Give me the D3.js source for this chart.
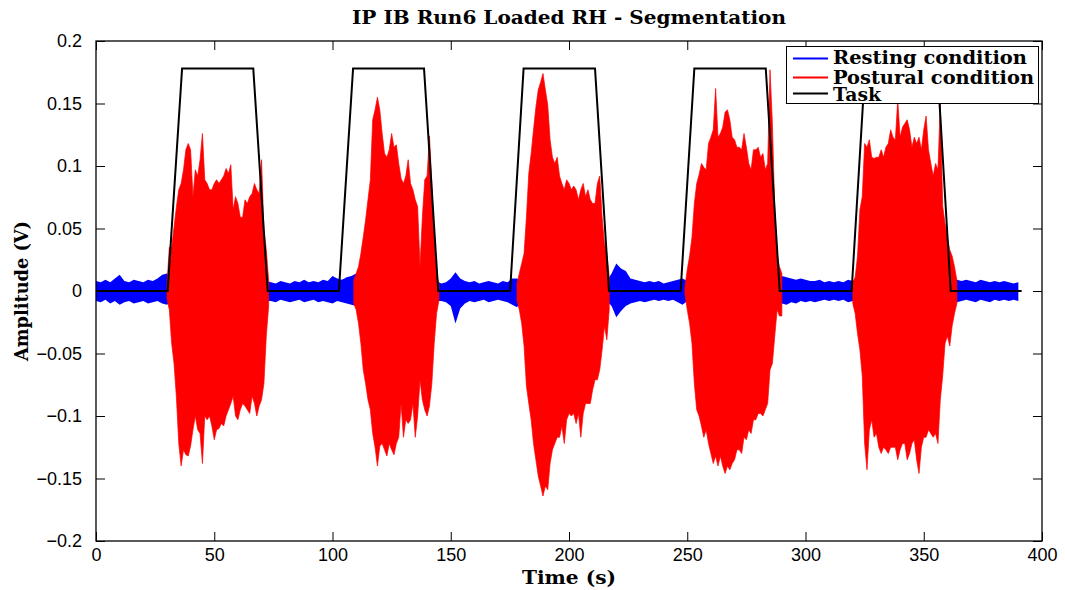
<!DOCTYPE html>
<html><head><meta charset="utf-8">
<script src="https://cdn.jsdelivr.net/npm/d3@7/dist/d3.min.js"></script>
<style>body{margin:0;background:#fff}svg{display:block}</style>
</head><body><svg id="c" width="1065" height="590"></svg>
<script>
// ---------------- data ----------------
const chartTitle = "IP IB Run6 Loaded RH - Segmentation";
const xLabel = "Time (s)";
const yLabel = "Amplitude (V)";
const seriesNames = ["Resting condition", "Postural condition", "Task"];
const seriesColors = ["#0000ff", "#ff0000", "#000000"];

const xTicks = [0, 50, 100, 150, 200, 250, 300, 350, 400];
const xTickLabels = ["0", "50", "100", "150", "200", "250", "300", "350", "400"];
const yTicks = [-0.2, -0.15, -0.1, -0.05, 0, 0.05, 0.1, 0.15, 0.2];
const yTickLabels = ["\u22120.2", "\u22120.15", "\u22120.1", "\u22120.05", "0", "0.05", "0.1", "0.15", "0.2"];

// Task (trapezoid) breakpoints
const taskTime = [0, 30.3, 36.4, 66.5, 72.6, 102.7, 108.7, 138.7, 144.7, 175.1, 180.8, 211.0, 216.9,
                  247.2, 253.0, 283.2, 289.1, 319.5, 325.2, 355.8, 361.4, 391.4];
const taskValue = [0, 0, 0.178, 0.178, 0, 0, 0.178, 0.178, 0, 0, 0.178, 0.178, 0,
                   0, 0.178, 0.178, 0, 0, 0.178, 0.178, 0, 0];

// Resting condition envelope, sampled every 2 s from t = 0
const restStep = 2;
const restUpper = [
 0.008,0.007,0.009,0.007,0.010,0.013,0.008,0.007,0.009,0.008,0.007,0.009,0.008,0.010,0.013,0.014,
 0.008,0.008,0.008,0.008,0.008,0.008,0.008,0.008,0.008,0.008,0.008,0.008,0.008,0.008,0.008,0.008,0.008,0.008,0.008,0.008,0.008,
 0.007,0.006,0.008,0.007,0.006,0.008,0.007,0.009,0.007,0.008,0.007,0.009,0.008,0.012,0.010,0.009,0.011,0.012,0.014,
 0.008,0.008,0.008,0.008,0.008,0.008,0.008,0.008,0.008,0.008,0.008,0.008,0.008,0.008,0.008,0.008,0.008,
 0.006,0.007,0.010,0.015,0.010,0.008,0.007,0.008,0.006,0.007,0.008,0.007,0.006,0.008,0.007,0.010,0.010,
 0.008,0.008,0.008,0.008,0.008,0.008,0.008,0.008,0.008,0.008,0.008,0.008,0.008,0.008,0.008,0.008,0.008,0.008,0.008,
 0.014,0.022,0.018,0.016,0.010,0.009,0.008,0.007,0.008,0.007,0.008,0.006,0.007,0.008,0.009,0.010,
 0.008,0.008,0.008,0.008,0.008,0.008,0.008,0.008,0.008,0.008,0.008,0.008,0.008,0.008,0.008,0.008,0.008,0.008,0.008,0.008,
 0.012,0.011,0.010,0.009,0.010,0.009,0.008,0.008,0.009,0.007,0.008,0.007,0.008,0.007,0.009,0.008,
 0.008,0.008,0.008,0.008,0.008,0.008,0.008,0.008,0.008,0.008,0.008,0.008,0.008,0.008,0.008,0.008,0.008,0.008,0.008,0.008,0.008,
 0.009,0.008,0.009,0.008,0.007,0.009,0.008,0.007,0.008,0.007,0.008,0.007,0.006,0.007
];
const restLower = [
 -0.008,-0.009,-0.007,-0.010,-0.008,-0.011,-0.009,-0.008,-0.010,-0.009,-0.008,-0.010,-0.009,-0.008,-0.010,-0.011,
 -0.008,-0.008,-0.008,-0.008,-0.008,-0.008,-0.008,-0.008,-0.008,-0.008,-0.008,-0.008,-0.008,-0.008,-0.008,-0.008,-0.008,-0.008,-0.008,-0.008,-0.008,
 -0.008,-0.009,-0.007,-0.008,-0.009,-0.008,-0.007,-0.009,-0.008,-0.007,-0.009,-0.008,-0.009,-0.010,-0.008,-0.009,-0.010,-0.011,-0.012,
 -0.008,-0.008,-0.008,-0.008,-0.008,-0.008,-0.008,-0.008,-0.008,-0.008,-0.008,-0.008,-0.008,-0.008,-0.008,-0.008,-0.008,
 -0.008,-0.009,-0.012,-0.026,-0.014,-0.010,-0.008,-0.009,-0.008,-0.007,-0.009,-0.008,-0.007,-0.008,-0.009,-0.011,-0.013,
 -0.008,-0.008,-0.008,-0.008,-0.008,-0.008,-0.008,-0.008,-0.008,-0.008,-0.008,-0.008,-0.008,-0.008,-0.008,-0.008,-0.008,-0.008,-0.008,
 -0.012,-0.021,-0.016,-0.012,-0.010,-0.009,-0.008,-0.009,-0.008,-0.007,-0.008,-0.007,-0.008,-0.007,-0.009,-0.011,
 -0.008,-0.008,-0.008,-0.008,-0.008,-0.008,-0.008,-0.008,-0.008,-0.008,-0.008,-0.008,-0.008,-0.008,-0.008,-0.008,-0.008,-0.008,-0.008,-0.008,
 -0.010,-0.011,-0.009,-0.010,-0.008,-0.009,-0.008,-0.009,-0.008,-0.007,-0.008,-0.007,-0.008,-0.007,-0.009,-0.008,
 -0.008,-0.008,-0.008,-0.008,-0.008,-0.008,-0.008,-0.008,-0.008,-0.008,-0.008,-0.008,-0.008,-0.008,-0.008,-0.008,-0.008,-0.008,-0.008,-0.008,-0.008,
 -0.009,-0.008,-0.007,-0.008,-0.009,-0.007,-0.008,-0.009,-0.007,-0.008,-0.007,-0.008,-0.007,-0.008
];

// Postural condition envelopes, one sample per second
const posturalStep = 1;
const posturalStart = [30, 109, 178, 249, 320];
const burst1Upper = [0.005,0.035,0.035,0.051,0.0675,0.081,0.086,0.097,0.113,0.118,0.113,0.0755,0.097,0.092,0.105,0.126,0.089,0.086,0.081,0.081,0.086,0.089,0.086,0.089,0.092,0.098,0.094,0.101,0.065,0.0755,0.070,0.059,0.059,0.073,0.070,0.0755,0.078,0.086,0.081,0.078,0.105,0.049,0.033,0.0085];
const burst1Lower = [-0.006,-0.015,-0.042,-0.058,-0.085,-0.122,-0.140,-0.127,-0.131,-0.132,-0.124,-0.111,-0.100,-0.111,-0.114,-0.138,-0.100,-0.103,-0.100,-0.108,-0.119,-0.111,-0.110,-0.106,-0.108,-0.100,-0.095,-0.090,-0.084,-0.100,-0.103,-0.095,-0.090,-0.092,-0.095,-0.098,-0.084,-0.090,-0.100,-0.092,-0.087,-0.074,-0.036,-0.012];
const burst2Upper = [0.0088,0.014,0.0195,0.030,0.043,0.057,0.073,0.089,0.137,0.145,0.155,0.145,0.126,0.110,0.107,0.113,0.126,0.115,0.117,0.102,0.090,0.086,0.092,0.105,0.086,0.081,0.073,0.0675,0.0195,0.059,0.089,0.092,0.124,0.086,0.043,0.014,0.0055];
const burst2Lower = [-0.010,-0.015,-0.026,-0.042,-0.063,-0.074,-0.087,-0.095,-0.114,-0.125,-0.140,-0.124,-0.122,-0.127,-0.132,-0.122,-0.127,-0.131,-0.122,-0.117,-0.090,-0.117,-0.103,-0.106,-0.103,-0.090,-0.117,-0.100,-0.071,-0.087,-0.095,-0.100,-0.092,-0.074,-0.042,-0.018,-0.0075];
const burst3Upper = [0.0061,0.014,0.022,0.030,0.059,0.094,0.110,0.129,0.147,0.161,0.167,0.174,0.161,0.149,0.121,0.107,0.102,0.107,0.092,0.086,0.081,0.089,0.086,0.081,0.084,0.081,0.073,0.081,0.086,0.0755,0.081,0.073,0.070,0.070,0.086,0.092,0.059,0.038,0.030,0.0115];
const burst3Lower = [-0.0075,-0.015,-0.026,-0.044,-0.076,-0.090,-0.103,-0.122,-0.135,-0.148,-0.156,-0.164,-0.156,-0.159,-0.138,-0.127,-0.122,-0.117,-0.117,-0.108,-0.122,-0.103,-0.098,-0.100,-0.098,-0.106,-0.098,-0.117,-0.098,-0.090,-0.090,-0.090,-0.079,-0.071,-0.071,-0.063,-0.047,-0.028,-0.039,-0.015];
const burst4Upper = [0.003,0.017,0.028,0.043,0.070,0.086,0.093,0.102,0.099,0.097,0.118,0.123,0.129,0.162,0.123,0.126,0.131,0.143,0.145,0.137,0.123,0.121,0.115,0.115,0.113,0.126,0.115,0.102,0.097,0.113,0.113,0.115,0.107,0.110,0.097,0.102,0.177,0.134,0.065,0.028,0.0195,0.014];
const burst4Lower = [-0.002,-0.015,-0.026,-0.042,-0.074,-0.095,-0.100,-0.108,-0.117,-0.111,-0.122,-0.130,-0.138,-0.132,-0.140,-0.132,-0.140,-0.146,-0.140,-0.143,-0.138,-0.135,-0.127,-0.127,-0.130,-0.117,-0.119,-0.111,-0.114,-0.103,-0.103,-0.098,-0.098,-0.100,-0.095,-0.090,-0.063,-0.058,-0.036,-0.015,-0.020,-0.020];
const burst5Upper = [0.007,0.011,0.028,0.065,0.0755,0.118,0.115,0.121,0.107,0.106,0.107,0.107,0.113,0.107,0.115,0.118,0.129,0.123,0.121,0.153,0.123,0.131,0.134,0.137,0.129,0.115,0.123,0.118,0.123,0.113,0.129,0.140,0.113,0.102,0.092,0.102,0.097,0.150,0.068,0.054,0.043,0.033,0.028,0.0195,0.0085];
const burst5Lower = [-0.010,-0.018,-0.034,-0.047,-0.068,-0.122,-0.143,-0.111,-0.103,-0.117,-0.114,-0.125,-0.130,-0.125,-0.127,-0.130,-0.125,-0.125,-0.125,-0.135,-0.127,-0.122,-0.122,-0.135,-0.130,-0.122,-0.119,-0.135,-0.146,-0.125,-0.117,-0.117,-0.111,-0.114,-0.117,-0.114,-0.122,-0.087,-0.068,-0.042,-0.036,-0.044,-0.028,-0.018,-0.010];

const burstUppers = [burst1Upper, burst2Upper, burst3Upper, burst4Upper, burst5Upper];
const burstLowers = [burst1Lower, burst2Lower, burst3Lower, burst4Lower, burst5Lower];

// ---------------- drawing ----------------
const svg = d3.select("#c");
const L = 96, R = 1042, T = 41, B = 541;
const x = d3.scaleLinear().domain([0, 400]).range([L, R]);
const y = d3.scaleLinear().domain([-0.2, 0.2]).range([B, T]);

const serif = "'DejaVu Serif', 'Liberation Serif', serif";
const sans = "'Liberation Sans', Arial, Helvetica, sans-serif";

svg.append("defs").append("clipPath").attr("id", "plotclip")
  .append("rect").attr("x", L).attr("y", T).attr("width", R - L).attr("height", B - T);

const plot = svg.append("g").attr("clip-path", "url(#plotclip)");

const area = d3.area().x(d => x(d.t)).y0(d => y(d.lo)).y1(d => y(d.hi));

// resting (blue)
const restData = restUpper.map((v, i) => ({t: i * restStep, hi: v, lo: restLower[i]}));
plot.append("path").datum(restData).attr("d", area)
  .attr("fill", seriesColors[0]).attr("stroke", "none");

// postural (red)
burstUppers.forEach((up, k) => {
  const data = up.map((v, i) => ({t: posturalStart[k] + i * posturalStep, hi: v, lo: burstLowers[k][i]}));
  plot.append("path").datum(data).attr("d", area)
    .attr("fill", seriesColors[1]).attr("stroke", seriesColors[1]).attr("stroke-width", 0.7);
});

// task (black)
const taskData = taskTime.map((t, i) => ({t, v: taskValue[i]}));
plot.append("path").datum(taskData)
  .attr("d", d3.line().x(d => x(d.t)).y(d => y(d.v)))
  .attr("fill", "none").attr("stroke", seriesColors[2]).attr("stroke-width", 2);

// axes (MATLAB style: inward ticks on all four sides)
const tickLen = 9;
const xAxis = d3.axisBottom(x).tickValues(xTicks).tickFormat((d, i) => xTickLabels[i])
  .tickSizeInner(-tickLen).tickSizeOuter(0).tickPadding(7);
const gx = svg.append("g").attr("transform", `translate(0,${B})`).call(xAxis);
gx.select(".domain").remove();
gx.selectAll("text").attr("font-family", sans).attr("font-size", 18).attr("fill", "#000");
gx.selectAll("line").attr("stroke", "#000");

const yAxis = d3.axisLeft(y).tickValues(yTicks).tickFormat((d, i) => yTickLabels[i])
  .tickSizeInner(-tickLen).tickSizeOuter(0).tickPadding(14);
const gy = svg.append("g").attr("transform", `translate(${L},0)`).call(yAxis);
gy.select(".domain").remove();
gy.selectAll("text").attr("font-family", sans).attr("font-size", 18).attr("fill", "#000");
gy.selectAll("line").attr("stroke", "#000");

const gxt = svg.append("g").attr("transform", `translate(0,${T})`)
  .call(d3.axisTop(x).tickValues(xTicks).tickFormat("").tickSizeInner(-tickLen).tickSizeOuter(0));
gxt.select(".domain").remove();
const gyr = svg.append("g").attr("transform", `translate(${R},0)`)
  .call(d3.axisRight(y).tickValues(yTicks).tickFormat("").tickSizeInner(-tickLen).tickSizeOuter(0));
gyr.select(".domain").remove();

svg.append("rect").attr("x", L).attr("y", T).attr("width", R - L).attr("height", B - T)
  .attr("fill", "none").attr("stroke", "#000").attr("stroke-width", 1.3);

// title and labels
svg.append("text").attr("x", (L + R) / 2).attr("y", 24).attr("text-anchor", "middle")
  .attr("font-family", serif).attr("font-weight", "bold").attr("font-size", 18)
  .attr("textLength", 434).attr("lengthAdjust", "spacingAndGlyphs").text(chartTitle);
svg.append("text").attr("x", (L + R) / 2).attr("y", 584).attr("text-anchor", "middle")
  .attr("font-family", serif).attr("font-weight", "bold").attr("font-size", 18)
  .attr("textLength", 94).attr("lengthAdjust", "spacingAndGlyphs").text(xLabel);
svg.append("text").attr("transform", `translate(28,${(T + B) / 2}) rotate(-90)`).attr("text-anchor", "middle")
  .attr("font-family", serif).attr("font-weight", "bold").attr("font-size", 18)
  .attr("textLength", 140).attr("lengthAdjust", "spacingAndGlyphs").text(yLabel);

// legend
const lg = svg.append("g");
lg.append("rect").attr("x", 786.5).attr("y", 46.5).attr("width", 252).attr("height", 57)
  .attr("fill", "#fff").attr("stroke", "#000").attr("stroke-width", 1);
const legendLineY = [58.5, 77.5, 93.5];
const legendTextY = [63.5, 83.5, 101];
const legendTextW = [194, 201, 48];
seriesNames.forEach((name, i) => {
  lg.append("line").attr("x1", 793).attr("x2", 828).attr("y1", legendLineY[i]).attr("y2", legendLineY[i])
    .attr("stroke", seriesColors[i]).attr("stroke-width", 2);
  lg.append("text").attr("x", 833).attr("y", legendTextY[i])
    .attr("font-family", serif).attr("font-weight", "bold").attr("font-size", 19)
    .attr("textLength", legendTextW[i]).attr("lengthAdjust", "spacingAndGlyphs").text(name);
});
</script></body></html>
